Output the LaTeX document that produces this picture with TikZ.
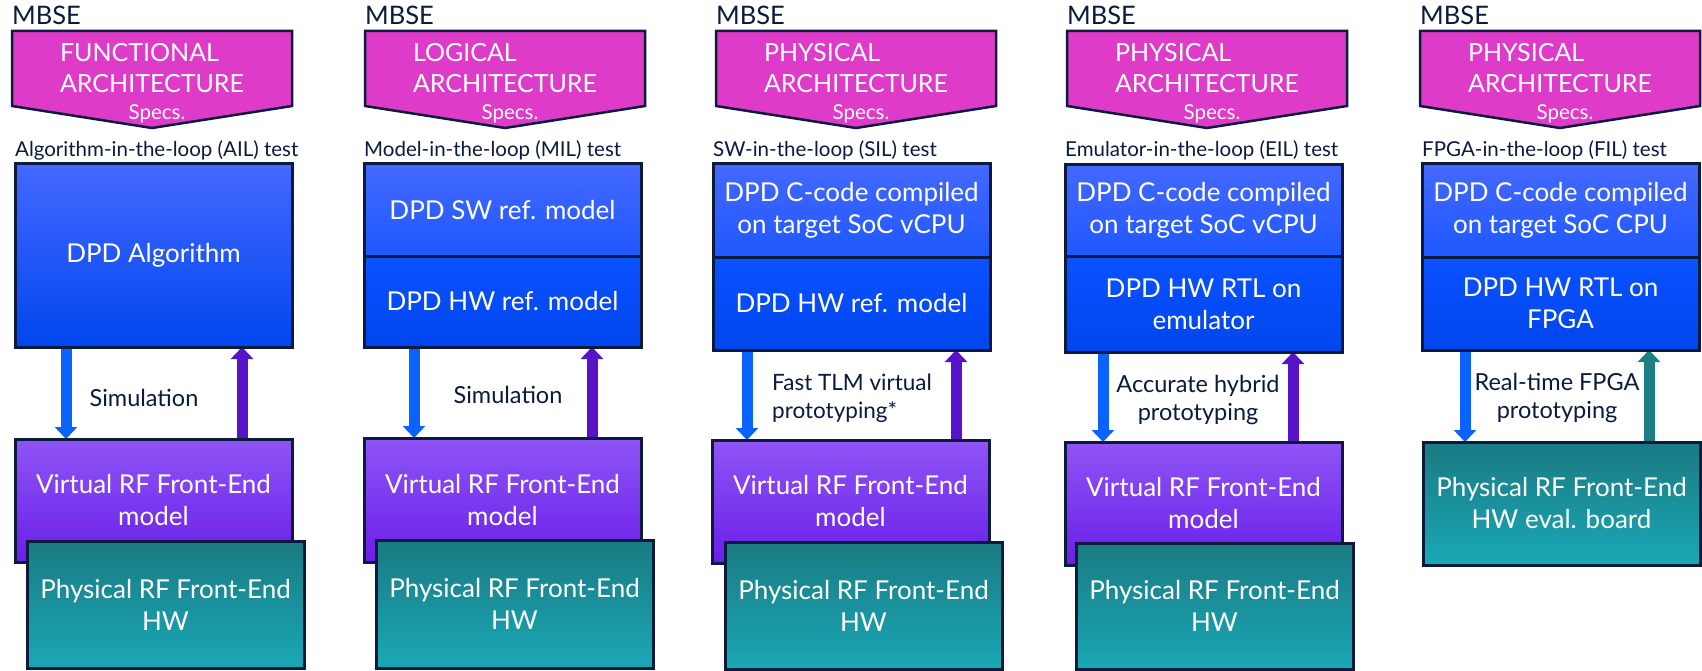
\documentclass[tikz,border=0pt]{standalone}
\usepackage{fontspec}
\setmainfont{Lato}
\usetikzlibrary{shadows,arrows.meta,calc}
\pgfdeclarelayer{background}
\pgfsetlayers{background,main}

\definecolor{navy}{HTML}{0B1A3D}
\definecolor{magentaA}{HTML}{DE3CC8}
\definecolor{blueTop}{HTML}{4468FF}
\definecolor{blueMid}{HTML}{1E58FF}
\definecolor{blueMidB}{HTML}{0A52FF}
\definecolor{blueBot}{HTML}{0046EE}
\definecolor{violetTop}{HTML}{8F55F6}
\definecolor{violetBot}{HTML}{6A1EE8}
\definecolor{tealTop}{HTML}{1A7A82}
\definecolor{tealBot}{HTML}{1AA8B6}
\definecolor{arrowBlue}{HTML}{0A62FF}
\definecolor{arrowViolet}{HTML}{5812C8}
\definecolor{arrowTeal}{HTML}{1A8086}

% MBSE header: label, pentagon arrow with its title and "Specs."
\newcommand{\archhead}[3]{%
  \node[mbse, anchor=base west] (mbse#2) at (#1,25) {MBSE};
  \draw[pent] (#1,31) -- ++(280,0) -- ++(0,75) -- ++(-140,22) -- ++(-140,-22) -- cycle;
  \node[penttext] (arch#2) at (#1+140,68.5) {#3};
  \node[specs] (spec#2) at (#1+145,120) {Specs.};
}

\begin{document}
\begin{tikzpicture}[x=1pt,y=-1pt,
  mbse/.style={text=navy, font=\fontsize{25.5}{30}\selectfont, inner sep=0pt},
  pent/.style={fill=magentaA, draw=navy, line width=2.5pt, line join=miter},
  penttext/.style={text=white, align=left, font=\fontsize{25}{31}\selectfont, inner sep=0pt},
  specs/.style={text=white, font=\fontsize{20.5}{24}\selectfont, inner sep=0pt, anchor=base},
  testlabel/.style={text=navy, font=\fontsize{20.5}{24}\selectfont, inner sep=0pt, anchor=base west},
  blockbox/.style={draw=navy, line width=3pt, outer sep=0pt, inner sep=3pt, text=white,
    align=center, font=\fontsize{26}{32}\selectfont, anchor=north west, minimum width=277pt,
    drop shadow={shadow xshift=2pt,shadow yshift=-2pt,opacity=0.22}},
  bluebox/.style={blockbox, top color=blueTop, bottom color=blueBot},
  blueup/.style={blockbox, top color=blueTop, bottom color=blueMid},
  bluelow/.style={blockbox, top color=blueMidB, bottom color=blueBot},
  violetbox/.style={blockbox, top color=violetTop, bottom color=violetBot},
  tealbox/.style={blockbox, top color=tealTop, bottom color=tealBot},
  flowlabel/.style={text=navy, font=\fontsize{23.5}{28}\selectfont, inner sep=0pt, align=center},
  flowbase/.style={line width=11pt, -{Triangle[width=22pt,length=12pt]}},
  downflow/.style={flowbase, arrowBlue},
  upflow/.style={flowbase, arrowViolet},
  upteal/.style={flowbase, arrowTeal}]

\begin{pgfonlayer}{background}
  \fill[white] (0,0) rectangle (1702,671);
\end{pgfonlayer}
\useasboundingbox (0,0) rectangle (1702,671);

% ---------- Column 1: AIL ----------
\archhead{12}{1}{FUNCTIONAL\\ARCHITECTURE}
\node[testlabel] (test1) at (15,157) {Algorithm-in-the-loop (AIL) test};
\node[bluebox, minimum height=183pt] (l1) at (15,164) {DPD Algorithm};
\node[violetbox, minimum height=123pt] (v1) at (15,439) {Virtual RF Front-End\\model};
\node[tealbox, minimum height=127pt] (t1) at (27,541) {Physical RF Front-End\\HW};
\node[flowlabel] (f1) at (144,398) {Simulation};
\begin{pgfonlayer}{background}
  \draw[downflow] ($(l1.south west)+(51,0)$) -- ($(v1.north west)+(51,0)$);
  \draw[upflow] ($(v1.north west)+(227,0)$) -- ($(l1.south west)+(227,0)$);
\end{pgfonlayer}

% ---------- Column 2: MIL ----------
\archhead{365}{2}{LOGICAL\\ARCHITECTURE}
\node[testlabel] (test2) at (364,157) {Model-in-the-loop (MIL) test};
\node[blueup, minimum height=92pt] (u2) at (364,164) {DPD SW ref. model};
\node[bluelow, minimum height=91pt] (l2) at (364,256) {DPD HW ref. model};
\node[violetbox, minimum height=124pt] (v2) at (364,438) {Virtual RF Front-End\\model};
\node[tealbox, minimum height=128pt] (t2) at (376,540) {Physical RF Front-End\\HW};
\node[flowlabel] (f2) at (508,395) {Simulation};
\begin{pgfonlayer}{background}
  \draw[downflow] ($(l2.south west)+(50,0)$) -- ($(v2.north west)+(50,0)$);
  \draw[upflow] ($(v2.north west)+(228,0)$) -- ($(l2.south west)+(228,0)$);
\end{pgfonlayer}

% ---------- Column 3: SIL ----------
\archhead{716}{3}{PHYSICAL\\ARCHITECTURE}
\node[testlabel] (test3) at (713,157) {SW-in-the-loop (SIL) test};
\node[blueup, minimum height=93pt] (u3) at (713,164) {DPD C-code compiled\\on target SoC vCPU};
\node[bluelow, minimum height=93pt] (l3) at (713,257) {DPD HW ref. model};
\node[violetbox, minimum height=123pt] (v3) at (712,440) {Virtual RF Front-End\\model};
\node[tealbox, minimum height=127pt] (t3) at (725,542) {Physical RF Front-End\\HW};
\node[flowlabel, align=left, anchor=west, font=\fontsize{22.5}{28}\selectfont] (f3) at (772,398) {Fast TLM virtual\\prototyping*};
\begin{pgfonlayer}{background}
  \draw[downflow] ($(l3.south west)+(34,0)$) -- ($(v3.north west)+(35,0)$);
  \draw[upflow] ($(v3.north west)+(244,0)$) -- ($(l3.south west)+(243,0)$);
\end{pgfonlayer}

% ---------- Column 4: EIL ----------
\archhead{1067}{4}{PHYSICAL\\ARCHITECTURE}
\node[testlabel] (test4) at (1065,157) {Emulator-in-the-loop (EIL) test};
\node[blueup, minimum height=91pt] (u4) at (1065,165) {DPD C-code compiled\\on target SoC vCPU};
\node[bluelow, minimum height=96pt] (l4) at (1065,256) {DPD HW RTL on\\emulator};
\node[violetbox, minimum height=123pt] (v4) at (1065,442) {Virtual RF Front-End\\model};
\node[tealbox, minimum height=126pt] (t4) at (1076,543) {Physical RF Front-End\\HW};
\node[flowlabel] (f4) at (1198,400) {Accurate hybrid\\prototyping};
\begin{pgfonlayer}{background}
  \draw[downflow] ($(l4.south west)+(38,0)$) -- ($(v4.north west)+(38,0)$);
  \draw[upflow] ($(v4.north west)+(228,0)$) -- ($(l4.south west)+(228,0)$);
\end{pgfonlayer}

% ---------- Column 5: FIL ----------
\archhead{1420}{5}{PHYSICAL\\ARCHITECTURE}
\node[testlabel] (test5) at (1422,157) {FPGA-in-the-loop (FIL) test};
\node[blueup, minimum height=93pt] (u5) at (1422,164) {DPD C-code compiled\\on target SoC CPU};
\node[bluelow, minimum height=93pt] (l5) at (1422,257) {DPD HW RTL on\\FPGA};
\node[tealbox, minimum height=123pt] (t5) at (1423,442) {Physical RF Front-End\\HW eval. board};
\node[flowlabel] (f5) at (1557,398) {Real-time FPGA\\prototyping};
\begin{pgfonlayer}{background}
  \draw[downflow] ($(l5.south west)+(43,0)$) -- ($(t5.north west)+(42,0)$);
  \draw[upteal] ($(t5.north west)+(226,0)$) -- ($(l5.south west)+(227,0)$);
\end{pgfonlayer}

\end{tikzpicture}
\end{document}
